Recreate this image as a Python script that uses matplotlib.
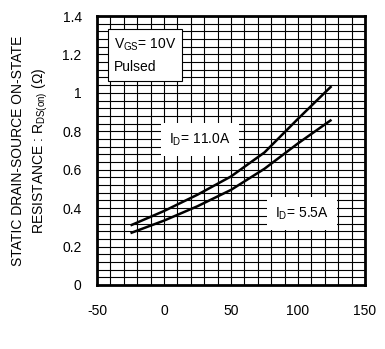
import matplotlib
matplotlib.use("Agg")
import matplotlib.pyplot as plt
import numpy as np

plt.rcParams['font.family'] = ['Liberation Sans', 'DejaVu Sans']
plt.rcParams['mathtext.fontset'] = 'custom'
plt.rcParams['mathtext.rm'] = 'Liberation Sans'
plt.rcParams['mathtext.it'] = 'Liberation Sans:italic'
plt.rcParams['axes.unicode_minus'] = False

# Data
temp = [-25, 0, 25, 50, 75, 100, 125]
r_11A = [0.31, 0.385, 0.47, 0.565, 0.69, 0.865, 1.035]
r_5_5A = [0.27, 0.335, 0.41, 0.495, 0.605, 0.737, 0.86]
x_ticks = [-50, 0, 50, 100, 150]
y_ticks = [0, 0.2, 0.4, 0.6, 0.8, 1.0, 1.2, 1.4]
y_ticklabels = ["0", "0.2", "0.4", "0.6", "0.8", "1", "1.2", "1.4"]

fig = plt.figure(figsize=(3.85, 3.49), dpi=100)
ax = fig.add_axes([97/385, (349-285)/349, 268/385, 269/349])

ax.set_xlim(-50, 150)
ax.set_ylim(0, 1.4)

# grid
ax.set_xticks(np.arange(-50, 151, 10), minor=True)
ax.set_yticks(np.arange(0, 1.401, 0.04), minor=True)
ax.grid(which='minor', color='black', linewidth=0.8)
ax.grid(which='major', color='black', linewidth=0.8)
ax.set_axisbelow(True)

ax.set_xticks(x_ticks)
ax.set_yticks(y_ticks)
ax.set_yticklabels(y_ticklabels)
ax.tick_params(which='both', length=0, labelsize=10)
ax.tick_params(axis='x', pad=14)
ax.tick_params(axis='y', pad=11)

for s in ax.spines.values():
    s.set_linewidth(2.0)
    s.set_color('black')

ax.plot(temp, r_11A, color='black', linewidth=1.8, solid_capstyle='butt', zorder=3)
ax.plot(temp, r_5_5A, color='black', linewidth=1.8, solid_capstyle='butt', zorder=3)

ax.text(-37.5, 1.295, "V$_{\\mathrm{GS}}$= 10V\nPulsed", fontsize=10, va='top', ha='left',
        linespacing=1.7, zorder=5,
        bbox=dict(boxstyle='square,pad=0.45', facecolor='white', edgecolor='black', linewidth=0.8))
ax.text(27, 0.755, "I$_{\\mathrm{D}}$= 11.0A", fontsize=10, va='center', ha='center', zorder=5,
        bbox=dict(boxstyle='square,pad=0.6', facecolor='white', edgecolor='none'))
ax.text(103, 0.37, "I$_{\\mathrm{D}}$= 5.5A", fontsize=10, va='center', ha='center', zorder=5,
        bbox=dict(boxstyle='square,pad=0.6', facecolor='white', edgecolor='none'))

ax.set_ylabel("STATIC DRAIN-SOURCE ON-STATE\nRESISTANCE : R$_{\\mathrm{DS(on)}}$ ($\\Omega$)",
              fontsize=10, labelpad=9, linespacing=1.45)

fig.savefig("out.png", dpi=100)
